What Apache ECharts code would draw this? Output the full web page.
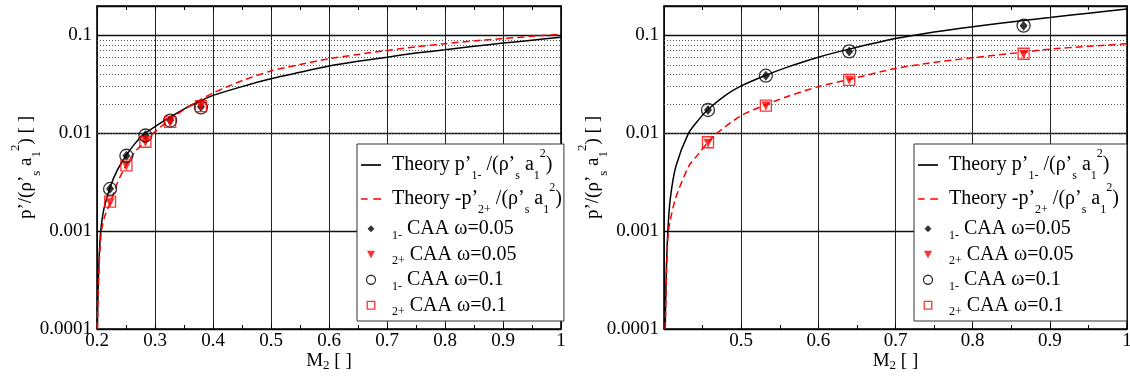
<!DOCTYPE html>
<html>
<head>
<meta charset="utf-8">
<script src="https://cdn.jsdelivr.net/npm/echarts@6/dist/echarts.min.js"></script>
<style>
html, body { margin: 0; padding: 0; background: #fff; }
#chart { width: 1130px; height: 379px; }
</style>
</head>
<body>
<div id="chart"></div>
<script>
// 左图 theory curves [M2, value]
const leftTheory1 = [
  [0.2007, 0.0001], [0.2015, 0.0002], [0.2035, 0.0005], [0.2064, 0.001], [0.212, 0.0017],
  [0.2225, 0.0028], [0.235, 0.0042], [0.25, 0.0059], [0.265, 0.0078], [0.281, 0.0098],
  [0.3, 0.0117], [0.3256, 0.0146], [0.35, 0.0177], [0.379, 0.0215], [0.4, 0.0244],
  [0.45, 0.030], [0.5, 0.0361], [0.55, 0.042], [0.6, 0.0487], [0.65, 0.0545],
  [0.7, 0.060], [0.75, 0.066], [0.8, 0.0714], [0.85, 0.0775], [0.9, 0.0835],
  [0.95, 0.0895], [1.0, 0.096]
];
const leftTheory2 = [
  [0.2007, 0.0001], [0.2017, 0.0002], [0.204, 0.0005], [0.2076, 0.001], [0.213, 0.0014],
  [0.2236, 0.0020], [0.235, 0.0031], [0.25, 0.0047], [0.265, 0.0064], [0.285, 0.0085],
  [0.3, 0.0104], [0.3256, 0.0138], [0.35, 0.0175], [0.37, 0.0207], [0.4, 0.0258],
  [0.45, 0.0345], [0.5, 0.0433], [0.55, 0.0505], [0.6, 0.0578], [0.65, 0.064],
  [0.7, 0.0703], [0.75, 0.0765], [0.8, 0.0825], [0.85, 0.088], [0.9, 0.093],
  [0.95, 0.098], [1.0, 0.103]
];
// 左图 CAA points
const leftMarkX = [0.2225, 0.2507, 0.2834, 0.3262, 0.3792];
const leftDiamond = [0.00272, 0.0059, 0.00955, 0.0136, 0.0187];
const leftTriangle = [0.00195, 0.00462, 0.0081, 0.0128, 0.0188];
const leftCircle = [0.0027, 0.0059, 0.0095, 0.0135, 0.0184];
const leftSquare = [0.002, 0.0047, 0.0082, 0.0131, 0.019];

// 右图 theory curves
const rightTheory1 = [
  [0.4016, 0.0001], [0.4022, 0.0002], [0.403, 0.0004], [0.405, 0.001], [0.408, 0.0021],
  [0.4154, 0.0046], [0.4317, 0.010], [0.445, 0.0138], [0.457, 0.0175], [0.48, 0.0245],
  [0.5, 0.0305], [0.532, 0.0392], [0.56, 0.0475], [0.6, 0.060], [0.64, 0.0725],
  [0.7, 0.093], [0.75, 0.1085], [0.8, 0.123], [0.866, 0.1425], [0.9, 0.1525],
  [0.95, 0.169], [1.0, 0.186]
];
const rightTheory2 = [
  [0.4016, 0.0001], [0.4024, 0.0002], [0.4034, 0.0004], [0.4058, 0.001], [0.4145, 0.0021],
  [0.432, 0.0046], [0.445, 0.0062], [0.457, 0.0081], [0.4685, 0.010], [0.5, 0.0152],
  [0.532, 0.0196], [0.56, 0.0238], [0.6, 0.030], [0.64, 0.0355], [0.7, 0.046],
  [0.75, 0.053], [0.8, 0.0593], [0.866, 0.0675], [0.9, 0.0725], [0.95, 0.0775],
  [1.0, 0.0822]
];
const rightMarkX = [0.457, 0.532, 0.640, 0.866];
const rightDiamond = [0.0173, 0.0388, 0.0687, 0.126];
const rightTriangle = [0.0079, 0.019, 0.0348, 0.064];
const rightCircle = [0.0173, 0.0388, 0.0687, 0.126];
const rightSquare = [0.0081, 0.0192, 0.0352, 0.065];

// y 轴刻度
const yTicks = [0.0001, 0.001, 0.01, 0.1];
const yTickLabels = ['0.0001', '0.001', '0.01', '0.1'];
const yMinorGrid = [
  0.0002, 0.0003, 0.0004, 0.0005, 0.0006, 0.0007, 0.0008, 0.0009,
  0.002, 0.003, 0.004, 0.005, 0.006, 0.007, 0.008, 0.009,
  0.02, 0.03, 0.04, 0.05, 0.06, 0.07, 0.08, 0.09
];

const font = 'Liberation Serif';

const legendNames = ['th1', 'th2', 'd05', 't05', 'c01', 's01'];
const legendText = {
  th1: '{g| }{t|Theory p\u2019}{sb|1-}{t| /(\u03c1\u2019}{sb|s}{t| a}{sb|1}{sp|2}{t|)}',
  th2: '{g| }{t|Theory -p\u2019}{sb|2+}{t| /(\u03c1\u2019}{sb|s}{t| a}{sb|1}{sp|2}{t|)}',
  d05: '{h| }{cs|1-}{c| CAA \u03c9=0.05}',
  t05: '{h| }{cs|2+}{c| CAA \u03c9=0.05}',
  c01: '{h| }{cs|1-}{c| CAA \u03c9=0.1}',
  s01: '{h| }{cs|2+}{c| CAA \u03c9=0.1}'
};
// 图例图标
const legendIcons = {
  th1: 'path://M0,0h18v1.5h-18z',
  th2: 'path://M0,0h6v1.5h-6zM11,0h7v1.5h-7z',
  d05: 'path://M0,0M10,10M5,1L8.8,5L5,9L1.2,5z',
  t05: 'path://M0,0M10,10M0.6,1.2L9.4,1.2L5,9.6z',
  s01: 'path://M0,0M10,10M0.8,0.8h8.4v8.4h-8.4z'
};

function toPairs(xs, ys) {
  return xs.map((x, i) => [x, ys[i]]);
}

function yLabel(v) {
  for (let i = 0; i < yTicks.length; i++) {
    if (Math.abs(Math.log10(v) - Math.log10(yTicks[i])) < 0.01) return yTickLabels[i];
  }
  return '';
}

function makeLegend(left, padRight) {
  return {
    left: left,
    top: 144,
    orient: 'vertical',
    itemGap: 0,
    itemWidth: 20,
    itemHeight: 9,
    symbolKeepAspect: true,
    padding: [4, padRight, 3, 4],
    borderColor: '#333',
    borderWidth: 1,
    backgroundColor: '#fff',
    selectedMode: false,
    data: legendNames.map(n => {
      const item = { name: n };
      if (legendIcons[n]) item.icon = legendIcons[n];
      if (n === 'th1' || n === 'th2') item.itemStyle = { borderWidth: 0 };
      if (n === 'c01' || n === 's01') item.itemStyle = { borderWidth: 1.3 };
      return item;
    }),
    formatter: name => legendText[name],
    textStyle: {
      fontFamily: font,
      fontSize: 20,
      color: '#000',
      rich: {
        // g/h: 透明占位, 控制每行高度
        g: { width: 6, height: 34, lineHeight: 34, fontSize: 12, backgroundColor: 'rgba(255,255,255,0)' },
        h: { width: 6, height: 25.5, lineHeight: 25.5, fontSize: 12, backgroundColor: 'rgba(255,255,255,0)' },
        t: { fontFamily: font, fontSize: 20, lineHeight: 34, color: '#000' },
        sb: { fontFamily: font, fontSize: 12, lineHeight: 13, verticalAlign: 'bottom', color: '#000' },
        sp: { fontFamily: font, fontSize: 12, lineHeight: 19, verticalAlign: 'top', color: '#000' },
        c: { fontFamily: font, fontSize: 20, lineHeight: 25.5, color: '#000' },
        cs: { fontFamily: font, fontSize: 12, lineHeight: 14, verticalAlign: 'bottom', color: '#000' }
      }
    }
  };
}

function makeXAxes(gi, min) {
  const base = {
    type: 'value',
    gridIndex: gi,
    min: min,
    max: 1,
    interval: 0.1,
    axisLine: { show: true, onZero: false, lineStyle: { color: '#000', width: 1.6 } },
    axisTick: { show: true, inside: true, length: 5, lineStyle: { color: '#000' } },
    minorTick: { show: true, splitNumber: 2, length: 4, lineStyle: { color: '#000' } },
    nameMoveOverlap: false
  };
  return [
    Object.assign({}, base, {
      position: 'bottom',
      name: '{m|M}{s|2}{m| [ ]}',
      nameLocation: 'middle',
      nameGap: 21,
      nameTextStyle: {
        rich: {
          m: { fontFamily: font, fontSize: 19, lineHeight: 22, color: '#000' },
          s: { fontFamily: font, fontSize: 13, lineHeight: 6, verticalAlign: 'bottom', color: '#000' }
        }
      },
      splitLine: { show: true, lineStyle: { color: '#222', width: 1 } },
      axisLabel: {
        margin: 3,
        fontFamily: font,
        fontSize: 19,
        color: '#000',
        formatter: v => (v < min + 0.05 && min > 0.3) ? '' : String(Math.round(v * 10) / 10)
      }
    }),
    Object.assign({}, base, {
      position: 'top',
      axisLabel: { show: false },
      splitLine: { show: false }
    })
  ];
}

function makeYAxes(gi) {
  const base = {
    type: 'log',
    logBase: 10,
    gridIndex: gi,
    min: 0.0001,
    max: 0.2,
    axisLine: { show: true, onZero: false, lineStyle: { color: '#000', width: 1.6 } },
    axisTick: { show: true, inside: true, length: 6, lineStyle: { color: '#000' } },
    minorTick: { show: false },
    nameMoveOverlap: false
  };
  return [
    Object.assign({}, base, {
      position: 'left',
      name: '{t|p\u2019/(\u03c1\u2019}{sb|s}{t| a}{sb|1}{sp|2}{t|) [ ]}',
      nameLocation: 'middle',
      nameGap: 54,
      nameTextStyle: {
        rich: {
          t: { fontFamily: font, fontSize: 19, lineHeight: 34, color: '#000' },
          sb: { fontFamily: font, fontSize: 13, lineHeight: 17, verticalAlign: 'bottom', color: '#000' },
          sp: { fontFamily: font, fontSize: 13, lineHeight: 4, verticalAlign: 'top', color: '#000' }
        }
      },
      splitLine: { show: true, lineStyle: { color: '#111', width: 1.4 } },
      axisLabel: { margin: 5, fontFamily: font, fontSize: 19, color: '#000', formatter: yLabel }
    }),
    Object.assign({}, base, {
      position: 'right',
      axisLabel: { show: false },
      splitLine: { show: false }
    })
  ];
}

function makeSeries(xi, yi, th1, th2, markX, dia, tri, cir, sq) {
  return [
    {
      // 次网格线 (dotted)
      type: 'line',
      xAxisIndex: xi,
      yAxisIndex: yi,
      data: [],
      silent: true,
      z: 1,
      markLine: {
        silent: true,
        z: 1,
        symbol: ['none', 'none'],
        label: { show: false },
        emphasis: { disabled: true },
        animation: false,
        lineStyle: { color: '#555', type: [1, 2], width: 1 },
        data: yMinorGrid.map(v => ({ yAxis: v }))
      }
    },
    {
      name: 'th1', type: 'line', xAxisIndex: xi, yAxisIndex: yi, data: th1,
      symbol: 'none', showSymbol: false, smooth: 0.25, z: 3,
      lineStyle: { color: '#000', width: 1.5 }, itemStyle: { color: '#000' }
    },
    {
      name: 'th2', type: 'line', xAxisIndex: xi, yAxisIndex: yi, data: th2,
      symbol: 'none', showSymbol: false, smooth: 0.25, z: 3,
      lineStyle: { color: '#ff0000', width: 1.5, type: [7, 4] }, itemStyle: { color: '#ff0000' }
    },
    {
      name: 'd05', type: 'scatter', xAxisIndex: xi, yAxisIndex: yi, data: toPairs(markX, dia),
      symbol: 'diamond', symbolSize: [8, 10], z: 4, itemStyle: { color: '#000' }
    },
    {
      name: 't05', type: 'scatter', xAxisIndex: xi, yAxisIndex: yi, data: toPairs(markX, tri),
      symbol: 'triangle', symbolRotate: 180, symbolSize: 9, z: 4, itemStyle: { color: '#ff0000' }
    },
    {
      name: 'c01', type: 'scatter', xAxisIndex: xi, yAxisIndex: yi, data: toPairs(markX, cir),
      symbol: 'circle', symbolSize: 13, z: 5,
      itemStyle: { color: 'rgba(0,0,0,0)', borderColor: '#000', borderWidth: 1.3 }
    },
    {
      name: 's01', type: 'scatter', xAxisIndex: xi, yAxisIndex: yi, data: toPairs(markX, sq),
      symbol: 'rect', symbolSize: 11, z: 5,
      itemStyle: { color: 'rgba(0,0,0,0)', borderColor: '#ff0000', borderWidth: 1.3 }
    }
  ];
}

const myChart = echarts.init(document.getElementById('chart'), null, { renderer: 'canvas' });
myChart.setOption({
  animation: false,
  backgroundColor: '#fff',
  grid: [
    { left: 97, top: 6, width: 464, height: 323, outerBoundsMode: 'none' },
    { left: 664, top: 6, width: 463, height: 323, outerBoundsMode: 'none' }
  ],
  legend: [makeLegend(357, 2), makeLegend(914, 8)],
  xAxis: makeXAxes(0, 0.2).concat(makeXAxes(1, 0.4)),
  yAxis: makeYAxes(0).concat(makeYAxes(1)),
  series: makeSeries(0, 0, leftTheory1, leftTheory2, leftMarkX, leftDiamond, leftTriangle, leftCircle, leftSquare)
    .concat(makeSeries(2, 2, rightTheory1, rightTheory2, rightMarkX, rightDiamond, rightTriangle, rightCircle, rightSquare))
});
</script>
</body>
</html>
